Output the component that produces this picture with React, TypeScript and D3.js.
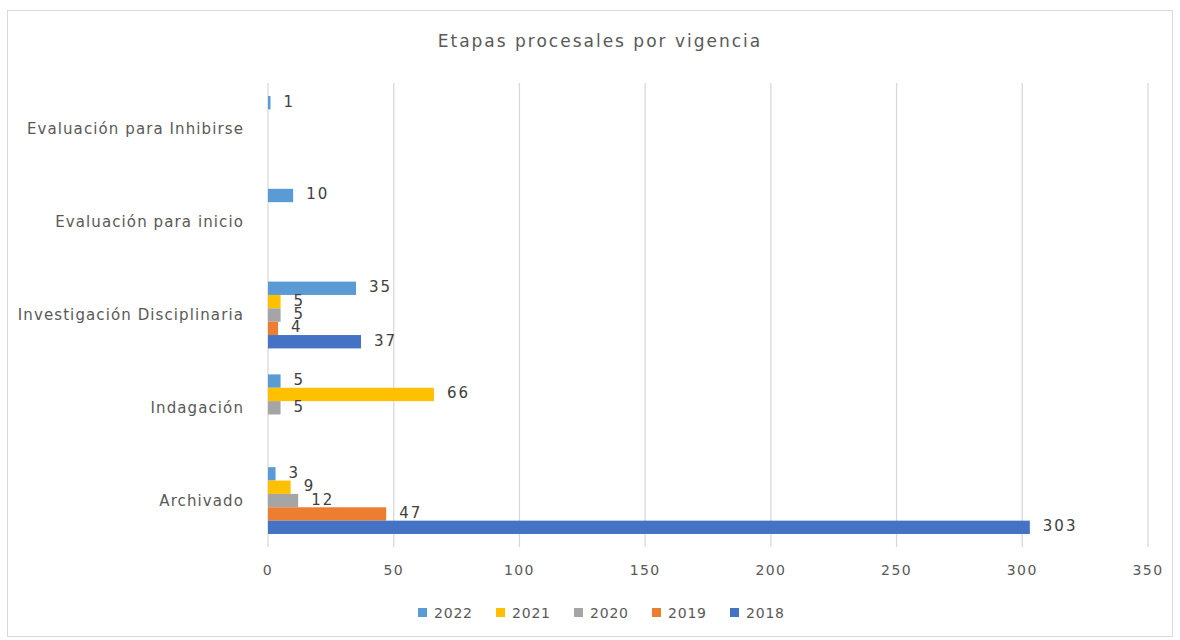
import { useRef, useEffect } from 'react'
import * as d3 from 'd3'

const CATEGORIES = ['Evaluación para Inhibirse', 'Evaluación para inicio', 'Investigación Disciplinaria', 'Indagación', 'Archivado']
const SERIES = ['2022', '2021', '2020', '2019', '2018']
const COLORS = ['#5B9BD5', '#FFC000', '#A5A5A5', '#ED7D31', '#4472C4']

// values per series, in CATEGORIES order (null = no bar)
const V2022 = [1, 10, 35, 5, 3]
const V2021 = [null, null, 5, 66, 9]
const V2020 = [null, null, 5, 5, 12]
const V2019 = [null, null, 4, null, 47]
const V2018 = [null, null, 37, null, 303]
const VALUES = [V2022, V2021, V2020, V2019, V2018]

const X_TICKS = [0, 50, 100, 150, 200, 250, 300, 350]

const W = 1180
const H = 640
const FONT = "'DejaVu Sans', sans-serif"

export default function App() {
  const svgRef = useRef<SVGSVGElement>(null)

  useEffect(() => {
    const el = svgRef.current
    if (!el) return
    const pad = { l: 268, r: 32, t: 83, b: 93 }
    const svg = d3.select(el)
    svg.selectAll('*').remove()

    svg.append('rect')
      .attr('x', 7.5).attr('y', 10.5)
      .attr('width', 1165).attr('height', 626)
      .attr('fill', '#fff').attr('stroke', '#d9d9d9')

    svg.append('text')
      .attr('x', 600).attr('y', 47)
      .attr('text-anchor', 'middle')
      .attr('font-family', FONT).attr('font-size', 17)
      .attr('letter-spacing', 2)
      .attr('fill', '#595959')
      .text('Etapas procesales por vigencia')

    const x = d3.scaleLinear().domain([0, 350]).range([pad.l, W - pad.r])
    const y = d3.scaleBand().domain(CATEGORIES).range([pad.t, H - pad.b])
      .paddingInner(0.28).paddingOuter(0.14)
    const ys = d3.scaleBand().domain(SERIES).range([0, y.bandwidth()])

    svg.append('g').selectAll('line')
      .data(X_TICKS)
      .join('line')
      .attr('x1', d => x(d)).attr('x2', d => x(d))
      .attr('y1', pad.t).attr('y2', H - pad.b)
      .attr('stroke', '#d9d9d9').attr('stroke-width', 1.3)

    svg.append('g').selectAll('text')
      .data(X_TICKS)
      .join('text')
      .attr('x', d => x(d)).attr('y', 575)
      .attr('text-anchor', 'middle')
      .attr('font-family', FONT).attr('font-size', 14)
      .attr('letter-spacing', 1.4)
      .attr('fill', '#595959')
      .text(d => d)

    svg.append('g').selectAll('text')
      .data(CATEGORIES)
      .join('text')
      .attr('x', 244).attr('y', d => (y(d) as number) + y.bandwidth() / 2 + 5)
      .attr('text-anchor', 'end')
      .attr('font-family', FONT).attr('font-size', 15)
      .attr('letter-spacing', 1.1)
      .attr('fill', '#595959')
      .text(d => d)

    const rows = SERIES.flatMap((s, si) =>
      CATEGORIES.map((c, ci) => ({ s, si, c, v: VALUES[si][ci] }))
    ).filter(d => d.v !== null) as { s: string; si: number; c: string; v: number }[]

    svg.append('g').selectAll('rect')
      .data(rows)
      .join('rect')
      .attr('x', x(0))
      .attr('y', d => (y(d.c) as number) + (ys(d.s) as number))
      .attr('width', d => x(d.v) - x(0))
      .attr('height', ys.bandwidth())
      .attr('fill', d => COLORS[d.si])

    svg.append('g').selectAll('text')
      .data(rows)
      .join('text')
      .attr('x', d => x(d.v) + 13)
      .attr('y', d => (y(d.c) as number) + (ys(d.s) as number) + ys.bandwidth() / 2 + 4)
      .attr('font-family', FONT).attr('font-size', 15)
      .attr('letter-spacing', 2)
      .attr('fill', '#404040')
      .text(d => d.v)

    const lg = svg.append('g').selectAll('g')
      .data(SERIES)
      .join('g')
      .attr('transform', (d, i) => `translate(${418 + i * 78},608)`)
    lg.append('rect').attr('width', 9).attr('height', 9).attr('fill', (d, i) => COLORS[i])
    lg.append('text')
      .attr('x', 16).attr('y', 10)
      .attr('font-family', FONT).attr('font-size', 14)
      .attr('letter-spacing', 0.8)
      .attr('fill', '#595959')
      .text(d => d)
  }, [])

  return (
    <svg ref={svgRef} width={W} height={H}
      style={{ position: 'absolute', left: 0, top: 0, display: 'block' }} />
  )
}
